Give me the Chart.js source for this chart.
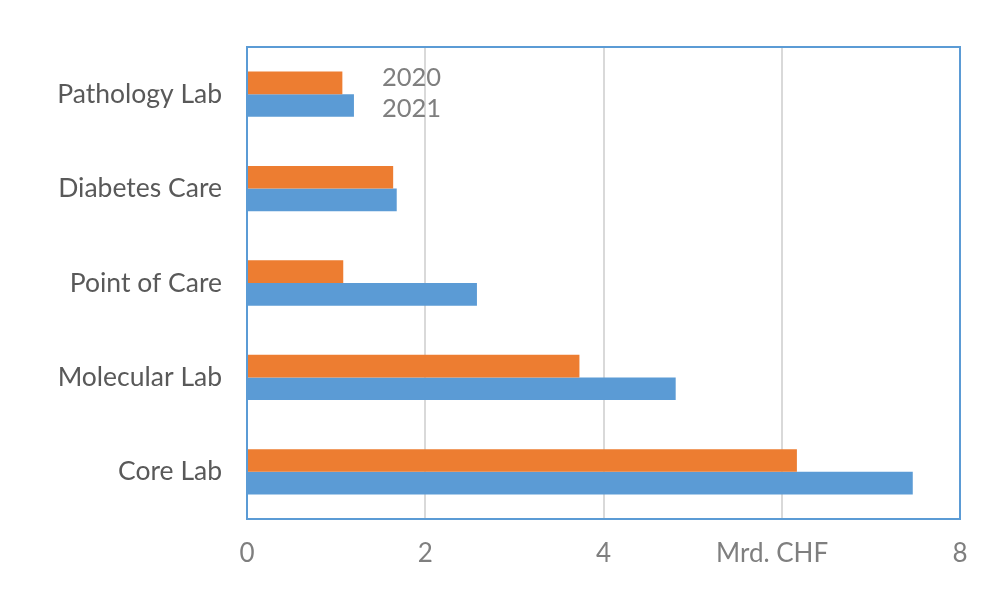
<!DOCTYPE html>
<html>
<head>
<meta charset="utf-8">
<script src="https://cdn.jsdelivr.net/npm/chart.js@4"></script>
<style>
  html, body { margin: 0; padding: 0; background: #fff; }
  #wrap { width: 1000px; height: 603px; }
</style>
</head>
<body>
<div id="wrap"><canvas id="barChart"></canvas></div>
<script>
// Umsatz nach Bereich, Mrd. CHF
const categories = ['Pathology Lab', 'Diabetes Care', 'Point of Care', 'Molecular Lab', 'Core Lab'];
const seriesLabels = ['2020', '2021'];
const values2020 = [1.07, 1.64, 1.08, 3.73, 6.17];
const values2021 = [1.20, 1.68, 2.58, 4.81, 7.47];
const xTickLabels = ['0', '2', '4', 'Mrd. CHF\u00a0\u00a0\u00a0', '8'];

const ORANGE = '#ED7D31';
const BLUE = '#5B9BD5';
const FONT = 'Lato, "Noto Sans", sans-serif';

// frame round the plot area plus the text-only legend inside it
const framePlugin = {
  id: 'frame',
  afterDraw(chart) {
    const { ctx, chartArea: a } = chart;
    ctx.save();
    ctx.strokeStyle = BLUE;
    ctx.lineWidth = 2;
    ctx.strokeRect(a.left, a.top, a.right - a.left, a.bottom - a.top);

    ctx.fillStyle = '#7f7f7f';
    ctx.font = '25.5px ' + FONT;
    ctx.textBaseline = 'middle';
    ctx.textAlign = 'left';
    chart.data.datasets.forEach((ds, i) => {
      ctx.fillText(ds.label, a.left + 135, a.top + 31 + i * 31);
    });
    ctx.restore();
  },
};

new Chart(document.getElementById('barChart').getContext('2d'), {
  type: 'bar',
  data: {
    labels: categories,
    datasets: [
      { label: seriesLabels[0], data: values2020, backgroundColor: ORANGE },
      { label: seriesLabels[1], data: values2021, backgroundColor: BLUE },
    ],
  },
  options: {
    indexAxis: 'y',
    responsive: true,
    maintainAspectRatio: false,
    animation: false,
    categoryPercentage: 0.48,
    barPercentage: 1,
    layout: { padding: { top: 47, right: 40, left: 0, bottom: 0 } },
    plugins: {
      legend: { display: false },
      tooltip: { enabled: false },
    },
    scales: {
      x: {
        min: 0,
        max: 8,
        afterFit: scale => { scale.height = 84; },
        afterBuildTicks: scale => {
          scale.ticks = xTickLabels.map((_, i) => ({ value: i * 2 }));
        },
        grid: { color: '#d9d9d9', lineWidth: 2, drawTicks: false },
        border: { display: false },
        ticks: {
          padding: 19,
          color: '#7f7f7f',
          font: { family: FONT, size: 26 },
          callback: (value, i) => xTickLabels[i],
        },
      },
      y: {
        afterFit: scale => { scale.width = 247; },
        grid: { display: false, drawTicks: false },
        border: { display: false },
        ticks: {
          padding: 25,
          color: '#595959',
          font: { family: FONT, size: 26.5 },
        },
      },
    },
  },
  plugins: [framePlugin],
});
</script>
</body>
</html>
